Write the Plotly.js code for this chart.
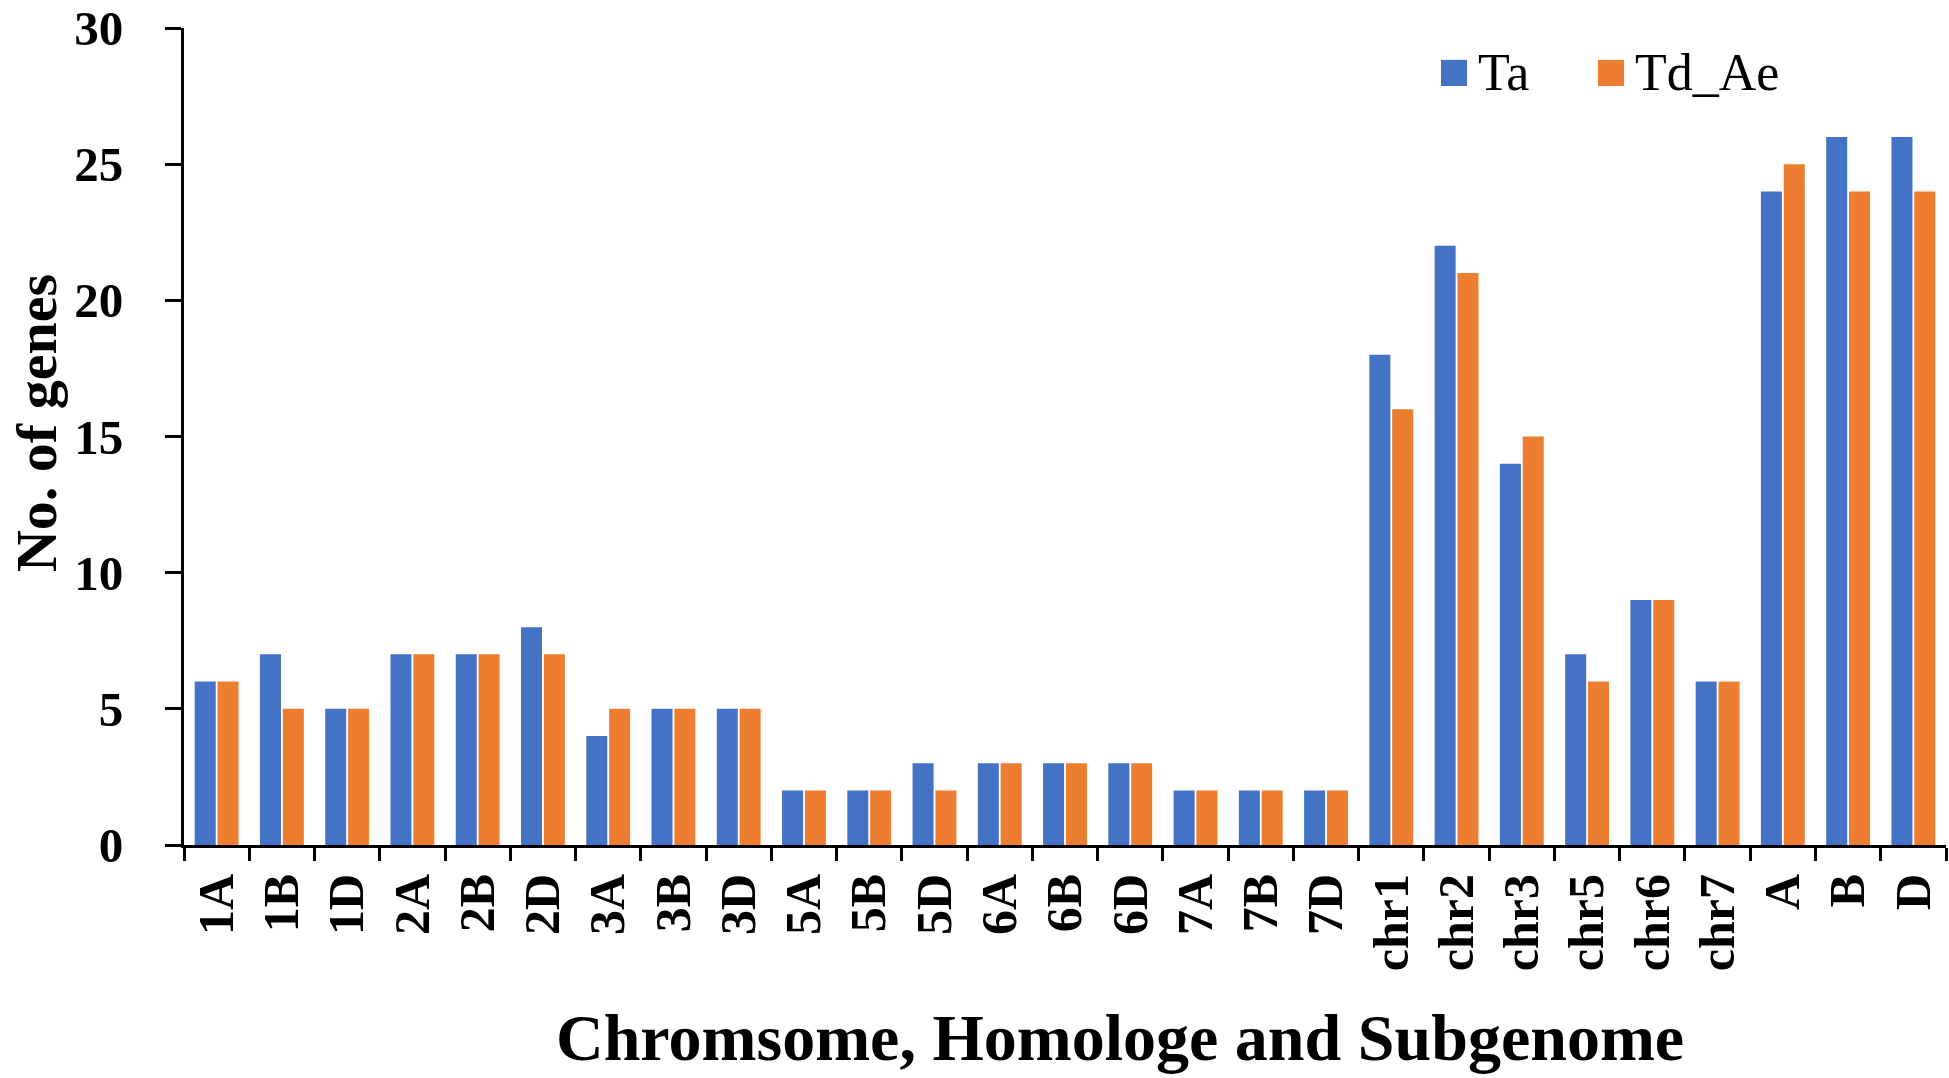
<!DOCTYPE html>
<html>
<head>
<meta charset="utf-8">
<script src="https://cdn.plot.ly/plotly-3.0.1.min.js"></script>
<style>
  html, body { margin: 0; padding: 0; background: #fff; }
  #chart { width: 1949px; height: 1078px; }
</style>
</head>
<body>
<div id="chart"></div>
<script>
const categories = ['1A', '1B', '1D', '2A', '2B', '2D', '3A', '3B', '3D', '5A', '5B', '5D',
    '6A', '6B', '6D', '7A', '7B', '7D', 'chr1', 'chr2', 'chr3', 'chr5', 'chr6', 'chr7', 'A', 'B', 'D'];
const taValues = [6, 7, 5, 7, 7, 8, 4, 5, 5, 2, 2, 3, 3, 3, 3, 2, 2, 2, 18, 22, 14, 7, 9, 6, 24, 26, 26];
const tdAeValues = [6, 5, 5, 7, 7, 7, 5, 5, 5, 2, 2, 2, 3, 3, 3, 2, 2, 2, 16, 21, 15, 6, 9, 6, 25, 24, 24];
const seriesNames = ['Ta', 'Td_Ae'];
const seriesColors = ['#4472C4', '#ED7D31'];
const yTicks = [0, 5, 10, 15, 20, 25, 30];

const SERIF = '"Times New Roman", "Liberation Serif", serif';

// Legend drawn by hand so the swatches can be as big as in the original
const legendSwatchX = [0.7134, 0.8025];
const swatchW = 0.0148;
const legendShapes = seriesColors.map((c, i) => ({
    type: 'rect', xref: 'paper', yref: 'paper',
    x0: legendSwatchX[i], x1: legendSwatchX[i] + swatchW,
    y0: 0.929, y1: 0.961,
    fillcolor: c, line: { width: 0 }
}));
const legendLabels = seriesNames.map((n, i) => ({
    xref: 'paper', yref: 'paper',
    x: legendSwatchX[i] + swatchW + 0.005, xanchor: 'left',
    y: 0.946, yanchor: 'middle',
    text: n, showarrow: false,
    font: { family: SERIF, size: 52, color: '#000' }
}));

// axis titles as annotations: the original has them slightly off-centre
const xTitle = {
    xref: 'paper', yref: 'paper',
    x: 0.531, xanchor: 'center',
    y: -0.236, yanchor: 'middle',
    text: 'Chromsome, Homologe and Subgenome', showarrow: false,
    font: { family: SERIF, size: 66, weight: 'bold', color: '#000' }
};
const yTitle = {
    xref: 'paper', yref: 'paper',
    x: -0.084, xanchor: 'center',
    y: 0.5165, yanchor: 'middle',
    textangle: -90,
    text: 'No. of genes', showarrow: false,
    font: { family: SERIF, size: 58, weight: 'bold', color: '#000' }
};

Plotly.newPlot('chart', seriesNames.map((n, i) => ({
    type: 'bar',
    name: n,
    x: categories,
    y: i === 0 ? taValues : tdAeValues,
    marker: { color: seriesColors[i] }
})), {
    width: 1949,
    height: 1078,
    paper_bgcolor: '#fff',
    plot_bgcolor: '#fff',
    margin: { l: 184, r: 3, t: 28, b: 233 },
    barmode: 'group',
    bargap: 0.3,
    bargroupgap: 0.08,
    font: { family: SERIF, color: '#000' },
    showlegend: false,
    shapes: legendShapes,
    annotations: legendLabels.concat([xTitle, yTitle]),
    xaxis: {
        type: 'category',
        showline: true,
        linewidth: 3,
        linecolor: '#000',
        ticks: 'outside',
        tickson: 'boundaries',
        ticklen: 13,
        tickwidth: 3,
        tickcolor: '#000',
        tickangle: -90,
        ticklabelstandoff: 6,
        tickfont: { family: SERIF, size: 50, weight: 'bold' },
        showgrid: false,
        automargin: false
    },
    yaxis: {
        range: [0, 30],
        tickvals: yTicks,
        showline: true,
        linewidth: 3,
        linecolor: '#000',
        ticks: 'outside',
        ticklen: 16,
        tickwidth: 3,
        tickcolor: '#000',
        ticklabelstandoff: 32,
        ticklabeloverflow: 'allow',
        tickfont: { family: SERIF, size: 49, weight: 'bold' },
        showgrid: false,
        zeroline: false,
        automargin: false
    }
}, { displayModeBar: false, responsive: false });
</script>
</body>
</html>
